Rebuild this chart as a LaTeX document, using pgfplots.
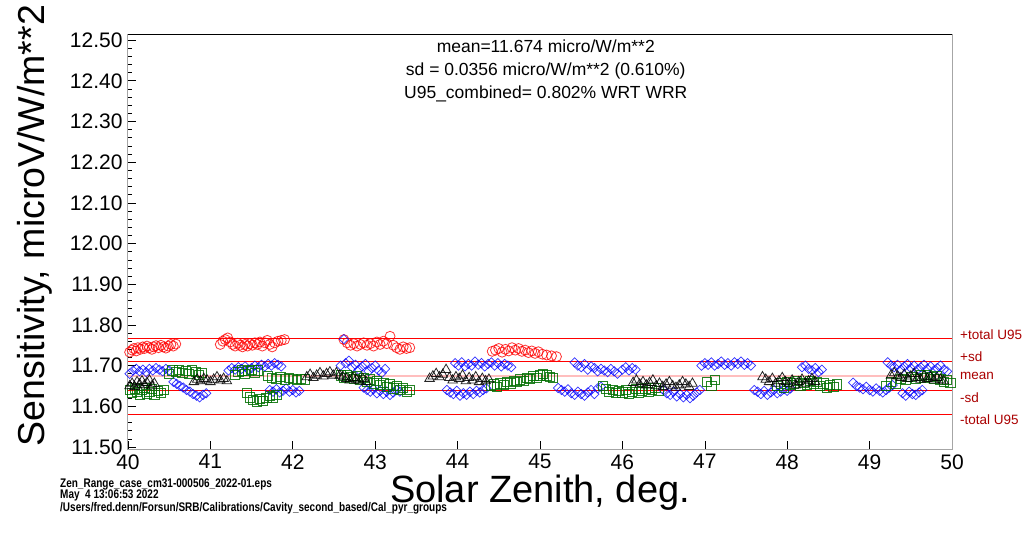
\documentclass[border=0pt]{standalone}
\usepackage{fontspec}
\setmainfont{Liberation Sans}
\usepackage{pgfplots}
\pgfplotsset{compat=1.18}
\definecolor{myred}{RGB}{255,0,0}
\definecolor{mypink}{RGB}{255,190,190}
\definecolor{mygreen}{RGB}{0,110,0}
\definecolor{myblue}{RGB}{0,0,255}
\definecolor{lbl}{RGB}{170,0,0}
\begin{document}
\begin{tikzpicture}
\begin{axis}[
  scale only axis, width=824pt, height=415pt,
  xmin=40, xmax=50, ymin=11.495, ymax=12.515,
  xtick={40,41,...,50}, ytick={11.5,11.6,...,12.51},
  minor y tick num=4,
  tick pos=left, tick align=inside,
  major tick length=8pt, minor tick length=4pt,
  every tick/.style={black, line width=0.6pt},
  axis line style={draw=gray!70, line width=1pt},
  /pgf/number format/assume math mode=true,
  yticklabel style={/pgf/number format/fixed, /pgf/number format/fixed zerofill, /pgf/number format/precision=2, xshift=-2pt},
  xticklabel style={/pgf/number format/fixed, /pgf/number format/precision=0, yshift=-2pt},
  tick label style={font=\fontsize{21}{25}\selectfont},
  clip mode=individual,
]
\coordinate (O) at (rel axis cs:0,0);
\draw[black, line width=0.8pt] (rel axis cs:0,1) -- (rel axis cs:1,1);
% reference lines
\addplot[mypink, line width=2.5pt] coordinates {(40,11.674) (50,11.674)};
\addplot[myred, line width=1pt] coordinates {(40,11.7676) (50,11.7676)};
\addplot[myred, line width=1pt] coordinates {(40,11.7096) (50,11.7096)};
\addplot[myred, line width=1pt] coordinates {(40,11.6384) (50,11.6384)};
\addplot[myred, line width=1pt] coordinates {(40,11.5804) (50,11.5804)};
% red circles
\addplot[only marks, mark=o, mark size=5pt, myred, mark options={line width=0.8pt, draw opacity=0.8}] table {
x y
40.02 11.733
40.05 11.738
40.07 11.742
40.10 11.736
40.12 11.744
40.15 11.740
40.18 11.746
40.20 11.742
40.23 11.748
40.26 11.744
40.29 11.740
40.31 11.746
40.34 11.749
40.37 11.744
40.40 11.750
40.43 11.746
40.46 11.743
40.49 11.748
40.52 11.752
40.55 11.748
40.58 11.753
41.12 11.752
41.15 11.760
41.18 11.764
41.21 11.768
41.24 11.758
41.27 11.752
41.30 11.748
41.33 11.755
41.36 11.750
41.39 11.746
41.42 11.752
41.45 11.748
41.48 11.754
41.51 11.750
41.54 11.756
41.57 11.752
41.60 11.758
41.63 11.748
41.66 11.756
41.69 11.762
41.72 11.752
41.75 11.746
41.78 11.756
41.82 11.760
41.86 11.762
41.90 11.764
42.62 11.764
42.66 11.756
42.70 11.750
42.74 11.754
42.78 11.748
42.82 11.752
42.86 11.756
42.90 11.750
42.94 11.754
42.98 11.748
43.02 11.758
43.06 11.752
43.10 11.760
43.14 11.754
43.18 11.772
43.22 11.750
43.26 11.744
43.30 11.740
43.34 11.746
43.38 11.742
43.42 11.744
44.42 11.735
44.46 11.738
44.50 11.742
44.54 11.733
44.58 11.740
44.62 11.736
44.66 11.744
44.70 11.738
44.74 11.742
44.78 11.735
44.82 11.738
44.86 11.732
44.90 11.736
44.94 11.730
44.98 11.734
45.03 11.728
45.08 11.726
45.14 11.724
45.20 11.722
};
% blue diamonds
\addplot[only marks, mark=square, mark size=3.3pt, myblue, mark options={rotate=45, line width=0.7pt, draw opacity=0.8}] table {
x y
40.02 11.680
40.06 11.688
40.10 11.692
40.14 11.686
40.18 11.690
40.22 11.684
40.26 11.692
40.30 11.688
40.34 11.694
40.38 11.690
40.42 11.686
40.46 11.692
40.50 11.688
40.55 11.660
40.59 11.655
40.63 11.650
40.67 11.646
40.71 11.640
40.75 11.636
40.79 11.630
40.83 11.626
40.87 11.622
40.91 11.628
40.95 11.632
41.22 11.688
41.26 11.694
41.30 11.690
41.34 11.696
41.38 11.692
41.42 11.698
41.46 11.690
41.50 11.694
41.54 11.700
41.58 11.696
41.62 11.702
41.66 11.698
41.70 11.704
41.74 11.700
41.78 11.706
41.82 11.702
41.86 11.698
41.72 11.640
41.76 11.636
41.80 11.642
41.84 11.634
41.88 11.638
41.92 11.644
41.96 11.636
42.00 11.640
42.04 11.634
42.08 11.638
42.58 11.700
42.62 11.765
42.64 11.706
42.68 11.712
42.72 11.696
42.76 11.702
42.80 11.690
42.84 11.698
42.88 11.704
42.92 11.686
42.96 11.694
43.00 11.700
43.04 11.688
43.08 11.682
43.12 11.692
42.86 11.646
42.90 11.640
42.94 11.636
42.98 11.642
43.02 11.632
43.06 11.638
43.10 11.630
43.14 11.636
43.18 11.628
43.22 11.634
43.26 11.640
43.30 11.636
43.97 11.706
44.01 11.700
44.05 11.708
44.09 11.698
44.13 11.704
44.17 11.700
44.21 11.710
44.25 11.702
44.29 11.706
44.33 11.698
44.37 11.704
44.41 11.708
44.45 11.700
44.49 11.706
44.53 11.698
44.57 11.704
44.61 11.700
44.65 11.696
43.87 11.640
43.91 11.634
43.95 11.630
43.99 11.638
44.03 11.626
44.07 11.632
44.11 11.628
44.15 11.636
44.19 11.630
44.23 11.638
44.27 11.634
44.31 11.640
44.35 11.644
45.22 11.645
45.26 11.640
45.30 11.636
45.34 11.642
45.38 11.632
45.42 11.628
45.46 11.636
45.50 11.630
45.54 11.626
45.58 11.634
45.62 11.640
45.66 11.630
45.70 11.644
45.74 11.648
45.42 11.708
45.46 11.700
45.50 11.696
45.54 11.704
45.58 11.690
45.62 11.698
45.66 11.694
45.70 11.686
45.74 11.692
45.78 11.688
45.82 11.684
45.86 11.692
45.90 11.686
45.94 11.680
46.00 11.690
46.04 11.696
46.08 11.688
46.12 11.694
46.16 11.690
46.50 11.640
46.54 11.632
46.58 11.628
46.62 11.636
46.66 11.624
46.70 11.630
46.74 11.622
46.78 11.628
46.82 11.620
46.86 11.626
46.90 11.634
46.94 11.640
46.96 11.700
47.00 11.706
47.04 11.702
47.08 11.708
47.12 11.700
47.16 11.704
47.20 11.710
47.24 11.702
47.28 11.706
47.32 11.700
47.36 11.708
47.40 11.704
47.44 11.710
47.48 11.702
47.52 11.706
47.56 11.700
47.60 11.640
47.64 11.636
47.68 11.630
47.72 11.638
47.76 11.628
47.80 11.634
47.84 11.640
47.88 11.632
47.92 11.636
47.96 11.642
48.00 11.638
48.04 11.644
48.18 11.696
48.22 11.700
48.26 11.692
48.30 11.688
48.34 11.694
48.38 11.684
48.42 11.690
48.80 11.658
48.84 11.650
48.88 11.646
48.92 11.642
48.96 11.648
49.00 11.640
49.04 11.636
49.08 11.644
49.12 11.638
49.16 11.634
49.20 11.640
49.24 11.646
49.28 11.652
49.22 11.708
49.26 11.700
49.30 11.696
49.34 11.702
49.38 11.690
49.42 11.698
49.46 11.704
49.50 11.694
49.54 11.700
49.58 11.690
49.62 11.696
49.66 11.702
49.70 11.692
49.74 11.698
49.78 11.688
49.82 11.694
49.86 11.700
49.90 11.690
49.94 11.686
49.40 11.632
49.44 11.626
49.48 11.636
49.52 11.630
49.56 11.628
49.60 11.634
49.64 11.640
};
% green squares
\addplot[only marks, mark=square, mark size=4.6pt, mygreen, mark options={line width=0.8pt, draw opacity=0.85}] table {
x y
40.02 11.640
40.05 11.632
40.08 11.644
40.11 11.636
40.14 11.628
40.17 11.640
40.20 11.646
40.23 11.630
40.26 11.636
40.29 11.642
40.32 11.628
40.36 11.638
40.40 11.632
40.44 11.640
40.50 11.680
40.54 11.688
40.58 11.684
40.62 11.690
40.66 11.682
40.70 11.686
40.74 11.680
40.78 11.688
40.82 11.684
40.86 11.678
40.90 11.682
41.30 11.678
41.34 11.684
41.38 11.688
41.42 11.680
41.46 11.686
41.50 11.690
41.54 11.682
41.58 11.688
41.44 11.632
41.48 11.622
41.52 11.616
41.56 11.612
41.60 11.618
41.64 11.614
41.68 11.620
41.72 11.626
41.76 11.622
41.80 11.628
41.70 11.674
41.75 11.670
41.80 11.668
41.85 11.672
41.90 11.666
41.95 11.670
42.00 11.668
42.05 11.664
42.10 11.668
42.15 11.666
42.58 11.676
42.62 11.670
42.66 11.678
42.70 11.672
42.74 11.668
42.78 11.674
42.82 11.664
42.86 11.670
42.90 11.660
42.94 11.666
42.98 11.656
43.02 11.662
43.06 11.652
43.10 11.658
43.14 11.648
43.18 11.654
43.22 11.644
43.26 11.650
43.30 11.640
43.34 11.646
43.38 11.636
43.42 11.640
44.40 11.650
44.44 11.654
44.48 11.648
44.52 11.656
44.56 11.652
44.60 11.660
44.64 11.656
44.68 11.662
44.72 11.660
44.76 11.666
44.80 11.662
44.84 11.670
44.88 11.668
44.92 11.674
44.96 11.670
45.00 11.676
45.04 11.680
45.08 11.676
45.12 11.672
45.16 11.670
45.76 11.650
45.80 11.642
45.84 11.636
45.88 11.640
45.92 11.632
45.96 11.638
46.00 11.634
46.04 11.640
46.08 11.630
46.12 11.636
46.16 11.642
46.20 11.634
46.24 11.638
46.28 11.644
46.32 11.636
46.36 11.640
46.40 11.646
46.44 11.638
47.03 11.660
47.08 11.650
47.12 11.664
47.88 11.650
47.92 11.656
47.96 11.646
48.00 11.660
48.04 11.652
48.08 11.656
48.12 11.662
48.16 11.650
48.20 11.658
48.24 11.654
48.28 11.662
48.32 11.656
48.36 11.660
48.40 11.650
48.44 11.656
48.48 11.646
48.52 11.652
48.56 11.648
48.60 11.654
49.20 11.650
49.26 11.660
49.32 11.656
49.38 11.668
49.44 11.664
49.50 11.672
49.56 11.668
49.62 11.676
49.66 11.670
49.70 11.678
49.74 11.672
49.78 11.668
49.82 11.674
49.86 11.666
49.90 11.660
49.94 11.664
49.98 11.658
};
% black triangles
\addplot[only marks, mark=triangle, mark size=5.5pt, black, mark options={line width=0.8pt, draw opacity=0.85}] table {
x y
40.02 11.650
40.05 11.656
40.08 11.648
40.11 11.660
40.14 11.654
40.17 11.662
40.20 11.652
40.23 11.658
40.26 11.664
40.29 11.650
40.32 11.656
40.80 11.660
40.84 11.666
40.88 11.662
40.92 11.668
40.96 11.664
41.00 11.660
41.04 11.666
41.08 11.672
41.12 11.664
41.16 11.668
41.20 11.662
42.17 11.672
42.21 11.678
42.25 11.670
42.29 11.676
42.33 11.682
42.37 11.674
42.41 11.680
42.45 11.684
42.49 11.676
42.53 11.682
42.57 11.676
42.61 11.672
42.65 11.668
42.69 11.664
42.73 11.670
42.77 11.666
42.81 11.662
42.85 11.668
42.89 11.660
43.66 11.668
43.70 11.674
43.74 11.680
43.78 11.672
43.82 11.678
43.86 11.690
43.90 11.670
43.94 11.664
43.98 11.672
44.02 11.668
44.06 11.676
44.10 11.662
44.14 11.670
44.18 11.664
44.22 11.672
44.26 11.660
44.30 11.668
44.34 11.662
44.38 11.666
46.13 11.658
46.17 11.664
46.21 11.654
46.25 11.660
46.29 11.652
46.33 11.658
46.37 11.664
46.41 11.650
46.45 11.656
46.49 11.648
46.53 11.654
46.57 11.660
46.61 11.650
46.65 11.646
46.69 11.652
46.73 11.660
46.77 11.654
46.81 11.648
46.85 11.656
47.70 11.672
47.74 11.666
47.78 11.660
47.82 11.668
47.86 11.656
47.90 11.662
47.94 11.670
47.98 11.660
48.02 11.656
48.06 11.664
48.10 11.652
48.14 11.660
48.18 11.666
48.22 11.656
48.26 11.662
48.30 11.668
48.34 11.660
49.26 11.676
49.30 11.682
49.34 11.674
49.38 11.670
49.42 11.678
49.46 11.668
49.50 11.674
49.54 11.680
49.58 11.670
49.62 11.666
49.66 11.674
49.70 11.668
49.74 11.672
49.78 11.664
49.82 11.670
49.86 11.666
49.90 11.662
};
% right labels
\begin{scope}[every node/.style={anchor=west, text=lbl, font=\fontsize{13.5}{15}\selectfont, inner sep=0pt}]
\node at (axis cs:50,11.777) [xshift=8pt] {+total U95};
\node at (axis cs:50,11.7207) [xshift=8pt] {+sd};
\node at (axis cs:50,11.674) [xshift=8pt] {mean};
\node at (axis cs:50,11.622) [xshift=8pt] {-sd};
\node at (axis cs:50,11.566) [xshift=8pt] {-total U95};
\end{scope}
% annotation
\node[anchor=north, align=center, inner sep=0pt, font=\fontsize{17.5}{23}\selectfont] at (rel axis cs:0.507,1) [yshift=-6pt]
  {mean=11.674 micro/W/m**2\\sd = 0.0356 micro/W/m**2 (0.610\%)\\U95\_combined= 0.802\% WRT WRR};
% axis labels
\node[anchor=base, inner sep=0pt, font=\fontsize{38}{40}\selectfont] at (rel axis cs:0.5,0) [yshift=-53pt] {Solar Zenith, deg.};
\path (rel axis cs:0,0.5) ++(-93pt,16pt) node[rotate=90, inner sep=0pt, font=\fontsize{37.5}{40}\selectfont] {Sensitivity, microV/W/m**2};
\end{axis}
% footer
\begin{scope}[every node/.style={anchor=base west, inner sep=0pt, font=\bfseries\fontsize{12.5}{13}\selectfont}]
\node at ([xshift=-68pt, yshift=-38pt]O) {\scalebox{0.8}[1]{Zen\_Range\_case\_cm31-000506\_2022-01.eps}};
\node at ([xshift=-68pt, yshift=-49pt]O) {\scalebox{0.8}[1]{May\ \ 4 13:06:53 2022}};
\node at ([xshift=-68pt, yshift=-62pt]O) {\scalebox{0.8}[1]{/Users/fred.denn/Forsun/SRB/Calibrations/Cavity\_second\_based/Cal\_pyr\_groups}};
\end{scope}
\pgfresetboundingbox
\path (O) ++(-128pt,-101pt) rectangle ++(1026pt,550pt);
\end{tikzpicture}
\end{document}
